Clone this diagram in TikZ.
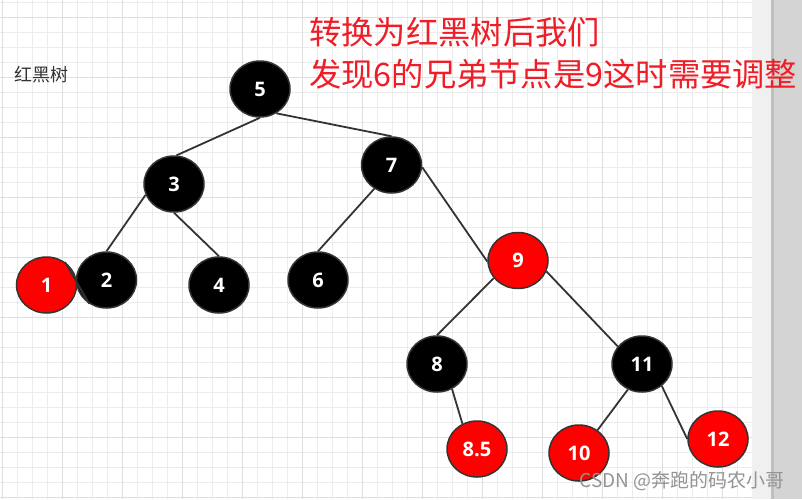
\documentclass[tikz,border=0pt]{standalone}
\usepackage{fontspec}
\setmainfont{Open Sans}
\newfontfamily\cjk{Noto Sans CJK SC}
\usetikzlibrary{shapes.geometric}

\definecolor{cred}{RGB}{255,0,0}
\definecolor{ctitle}{RGB}{240,28,38}
\definecolor{cline}{RGB}{51,51,51}
\definecolor{cminor}{RGB}{236,236,236}
\definecolor{cmajor}{RGB}{222,222,222}
\tikzset{rbtree/.style={x=1pt,y=-1pt},
  bk/.style={ellipse,draw=cline,line width=1.5pt,fill=black,text=white,
    minimum width=60pt,minimum height=56pt,inner sep=0pt,
    font=\bfseries\fontsize{20}{20}\selectfont},
  rd/.style={bk,fill=cred},
  link/.style={cline,line width=1.8pt}}

\begin{document}
\begin{tikzpicture}[rbtree]
    \useasboundingbox (0,0) rectangle (802,499);
    \fill[white] (0,0) rectangle (752,499);
    \foreach \x in {2.5,17.5,...,750} \draw[cminor] (\x,0) -- (\x,499);
    \foreach \y in {2,17,...,499} \draw[cminor] (0,\y) -- (752,\y);
    \foreach \x in {2.5,62.5,...,750} \draw[cmajor] (\x,0) -- (\x,499);
    \foreach \y in {17,77,...,499} \draw[cmajor] (0,\y) -- (752,\y);
    \fill[black!6] (752,0) rectangle (771,499);
    \fill[black!17] (771,0) rectangle (802,499);
    \fill[black!25] (771,0) rectangle (774,499);
    \node[anchor=base west,text=cline,font=\cjk\fontsize{18}{18}\selectfont] (cap) at (11,81) {红黑树};
    \node[anchor=north west,inner sep=0pt,align=left,text=ctitle,
      font=\cjk\fontsize{32.3}{42}\selectfont] (title) at (309,17)
      {转换为红黑树后我们\\发现6的兄弟节点是9这时需要调整};
    % tree
    \node[bk] (n5) at (260,89) {5};
    \node[bk] (n3) at (174,184) {3};
    \node[bk] (n7) at (391.5,165) {7};
    \node[rd] (n1) at (46.5,285) {1};
    \node[bk] (n2) at (106.5,280) {2};
    \node[bk] (n4) at (219,285) {4};
    \node[bk] (n6) at (318,280) {6};
    \node[rd] (n9) at (518,260.5) {9};
    \node[bk] (n8) at (437,364) {8};
    \node[bk] (n11) at (642,364) {11};
    \node[rd] (n85) at (477,449) {8.5};
    \node[rd] (n10) at (579,453) {10};
    \node[rd] (n12) at (718,439) {12};
    \draw[link] (n5.south) -- (n3.85);
    \draw[link] (n5.-56) -- (n7.north);
    \draw[link] (n3.201) -- (n2.north);
    \draw[link] (n3.south) -- (n4.north);
    \draw[link] (n1.51) -- (n2.234);
    \draw[link] (n7.234) -- (n6.north);
    \draw[link] (n7.-4) -- (n9.182);
    \draw[link] (n9.216) -- (n8.north);
    \draw[link] (n9.-21) -- (n11.144);
    \draw[link] (n8.-59) -- (n85.120);
    \draw[link] (n11.-119) -- (n10.51);
    \draw[link] (n11.-48) -- (n12.west);
    \node[anchor=base west,text=black!42,font=\cjk\fontsize{19}{19}\selectfont] (mark) at (576,487) {CSDN @奔跑的码农小哥};
\end{tikzpicture}
\end{document}
